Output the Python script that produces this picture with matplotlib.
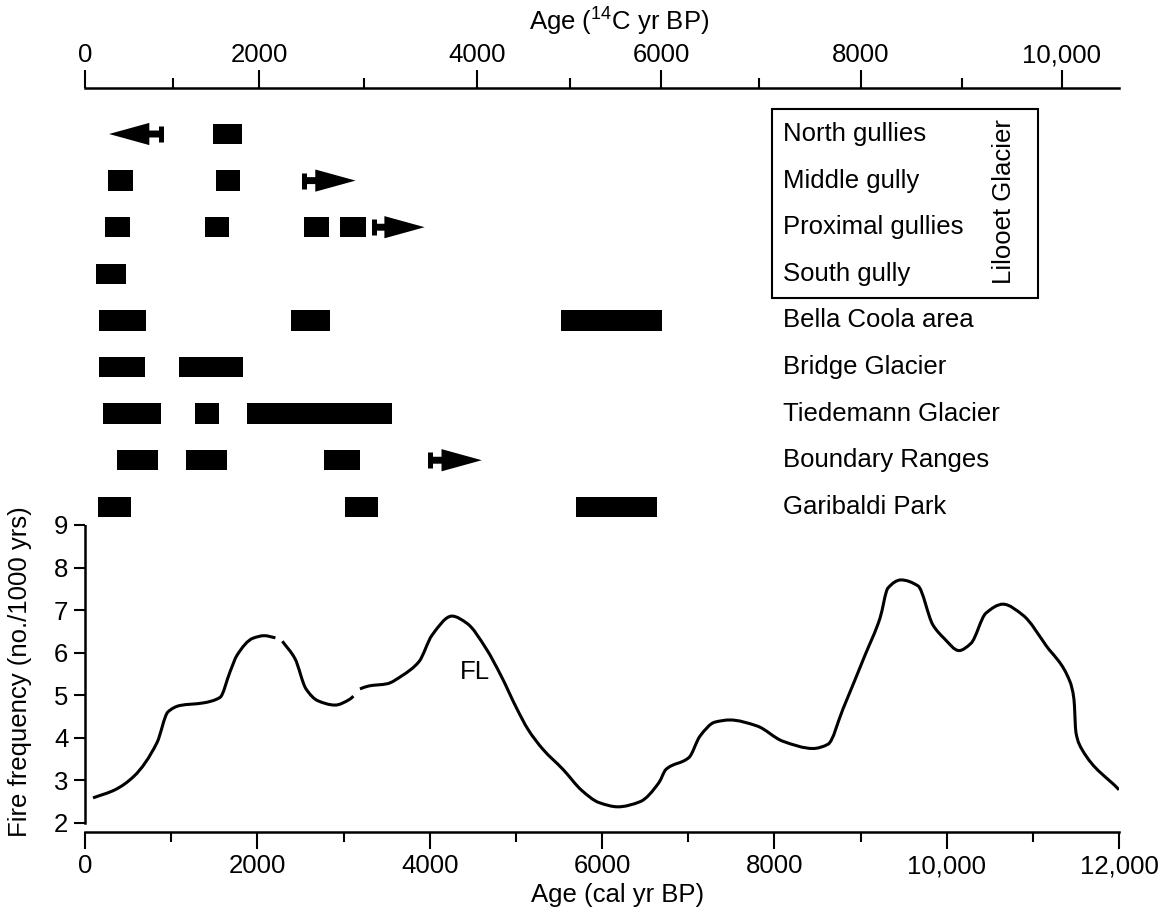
import matplotlib
matplotlib.use('Agg')
import matplotlib.pyplot as plt
from matplotlib.patches import Rectangle, PathPatch
from matplotlib.path import Path
import numpy as np

plt.rcParams['font.family'] = ['Liberation Sans', 'DejaVu Sans']
plt.rcParams['mathtext.fontset'] = 'custom'
plt.rcParams['mathtext.rm'] = 'Liberation Sans'
plt.rcParams['mathtext.it'] = 'Liberation Sans:italic'

# fire frequency curve (cal yr BP, no./1000 yrs); nan = small breaks in the line
age = [93, 348, 569, 836, 963, 1102, 1369, 1567, 1683, 1764, 1949, 2080, 2210, np.nan,
       2290, 2437, 2565, 2704, 2901, 3075, 3115, np.nan, 3191, 3296, 3505, 3679, 3876,
       4027, 4259, 4433, 4654, 4828, 5013, 5141, 5315, 5547, 5768, 5965, 6185, 6441,
       6661, 6743, 7010, 7137, 7311, 7485, 7798, 8100, 8449, 8623, 8797, 9052, 9226,
       9319, 9470, 9667, 9841, 9969, 10143, 10282, 10456, 10653, 10886, 11153, 11431,
       11477, 11500, 11570, 12000]
freq = [2.59, 2.78, 3.10, 3.89, 4.61, 4.76, 4.82, 4.95, 5.55, 5.94, 6.34, 6.40, 6.35, np.nan,
        6.27, 5.86, 5.15, 4.87, 4.77, 4.91, 4.98, np.nan, 5.15, 5.22, 5.27, 5.46, 5.79,
        6.41, 6.86, 6.69, 6.10, 5.46, 4.68, 4.20, 3.73, 3.26, 2.76, 2.48, 2.38, 2.50,
        2.95, 3.26, 3.54, 4.04, 4.37, 4.42, 4.28, 3.92, 3.75, 3.85, 4.68, 5.94, 6.81,
        7.52, 7.71, 7.57, 6.65, 6.34, 6.05, 6.22, 6.93, 7.14, 6.88, 6.17, 5.32,
        4.91, 4.13, 3.73, 2.78]

# sites and dated intervals (cal yr BP)
sites = ['North gullies', 'Middle gully', 'Proximal gullies', 'South gully',
         'Bella Coola area', 'Bridge Glacier', 'Tiedemann Glacier',
         'Boundary Ranges', 'Garibaldi Park']
north_gullies = [(1488, 1826)]
middle_gully = [(267, 558), (1523, 1802)]
proximal_gullies = [(233, 523), (1395, 1674), (2547, 2837), (2965, 3256)]
south_gully = [(128, 477)]
bella_coola = [(163, 709), (2395, 2849), (5523, 6698)]
bridge_glacier = [(163, 698), (1093, 1837)]
tiedemann_glacier = [(209, 884), (1279, 1558), (1884, 3558)]
boundary_ranges = [(372, 849), (1174, 1651), (2779, 3186)]
garibaldi_park = [(151, 535), (3023, 3395), (5698, 6640)]
intervals = [north_gullies, middle_gully, proximal_gullies, south_gully, bella_coola,
             bridge_glacier, tiedemann_glacier, boundary_ranges, garibaldi_park]

# open-ended records: row, start (bar cap), arrow tip
arrow_rows = [0, 1, 2, 7]
arrow_start = [880, 2540, 3355, 4006]
arrow_tip = [279, 3140, 3942, 4605]

# radiocarbon axis: 14C ages and where they fall on the calendar scale
c14_major = ['0', '2000', '4000', '6000', '8000', '10,000']
c14_major_cal = [0, 2019, 4549, 6685, 9005, 11338]
c14_minor_cal = [1021, 3238, 5628, 7822, 10178]

cal_ticks = [0, 2000, 4000, 6000, 8000, 10000, 12000]
cal_labels = ['0', '2000', '4000', '6000', '8000', '10,000', '12,000']


def smooth_path(xs, ys):
    # monotone cubic (Fritsch-Carlson) through the points, as bezier segments
    verts, codes = [], []
    xs = np.asarray(xs, float)
    ys = np.asarray(ys, float)
    breaks = np.where(np.isnan(xs))[0]
    starts = np.r_[0, breaks + 1]
    ends = np.r_[breaks, len(xs)]
    for s, e in zip(starts, ends):
        x = xs[s:e]
        y = ys[s:e]
        h = np.diff(x)
        d = np.diff(y) / h
        m = np.zeros(len(x))
        m[0], m[-1] = d[0], d[-1]
        for k in range(1, len(x) - 1):
            if d[k - 1] * d[k] > 0:
                w1 = 2 * h[k] + h[k - 1]
                w2 = h[k] + 2 * h[k - 1]
                m[k] = (w1 + w2) / (w1 / d[k - 1] + w2 / d[k])
        verts.append((x[0], y[0]))
        codes.append(Path.MOVETO)
        for k in range(len(x) - 1):
            verts += [(x[k] + h[k] / 3, y[k] + m[k] * h[k] / 3),
                      (x[k + 1] - h[k] / 3, y[k + 1] - m[k + 1] * h[k] / 3),
                      (x[k + 1], y[k + 1])]
            codes += [Path.CURVE4] * 3
    return Path(verts, codes)


W, H = 1169, 918
FS = 18.5
fig = plt.figure(figsize=(W / 100, H / 100), dpi=100)

# ---- lower panel: fire frequency ----
ax = fig.add_axes([85 / W, 1 - 823 / H, 1034 / W, 298 / H])
ax.add_patch(PathPatch(smooth_path(age, freq), fill=False, ec='black', lw=2.2,
                       capstyle='butt'))
ax.set_xlim(0, 12000)
ax.set_ylim(2, 9)
ax.spines['top'].set_visible(False)
ax.spines['right'].set_visible(False)
ax.spines['left'].set_bounds(2, 9)
ax.spines['bottom'].set_position(('outward', 6.5))
for s in ['left', 'bottom']:
    ax.spines[s].set_linewidth(1.8)
ax.set_xticks(cal_ticks)
ax.set_xticklabels(cal_labels)
ax.set_xticks(range(1000, 12000, 2000), minor=True)
ax.set_yticks(range(2, 10))
ax.tick_params(axis='x', which='major', length=12, width=1.5, labelsize=FS, pad=4)
ax.tick_params(axis='x', which='minor', length=7, width=1.5)
ax.tick_params(axis='y', length=8, width=1.5, labelsize=FS, pad=4)
ax.text(4526, 5.55, 'FL', fontsize=FS, ha='center', va='center')

fig.text(20 / W, 1 - 672 / H, 'Fire frequency (no./1000 yrs)', rotation=90,
         ha='center', va='center', fontsize=FS)
fig.text(618 / W, 1 - 895 / H, 'Age (cal yr BP)', ha='center', va='center', fontsize=FS)

# ---- upper panel: dated intervals ----
axb = fig.add_axes([85 / W, 1 - 525 / H, 1034 / W, (525 - 88) / H])
axb.set_xlim(0, 12000)
axb.set_ylim(8.39, -0.987)
for s in ['left', 'right', 'bottom']:
    axb.spines[s].set_visible(False)
axb.spines['top'].set_linewidth(1.8)
axb.xaxis.tick_top()
axb.set_xticks(c14_major_cal)
axb.set_xticklabels(c14_major)
axb.set_xticks(c14_minor_cal, minor=True)
axb.set_yticks([])
axb.tick_params(axis='x', which='major', length=13, width=1.5, labelsize=FS, pad=2)
axb.tick_params(axis='x', which='minor', length=7, width=1.5)

bar_h = 0.44
for i, spans in enumerate(intervals):
    axb.broken_barh([(a, b - a) for a, b in spans], (i - bar_h / 2, bar_h),
                    facecolors='black')
    axb.text(8100, i, sites[i], fontsize=FS, ha='left', va='center')

for r, a, b in zip(arrow_rows, arrow_start, arrow_tip):
    axb.annotate('', xy=(b, r), xytext=(a, r),
                 arrowprops=dict(arrowstyle='simple,head_length=2.9,head_width=1.6,tail_width=0.5',
                                 mutation_scale=10, fc='black', ec='none',
                                 shrinkA=0, shrinkB=0))
    axb.plot([a, a], [r - 0.17, r + 0.17], color='black', lw=3.6, solid_capstyle='butt')

axb.add_patch(Rectangle((7972, -0.536), 11060 - 7972, 3.519 + 0.536, fill=False,
                        lw=1.5, ec='black', clip_on=False))
axb.text(10663, 1.46, 'Lilooet Glacier', rotation=90, fontsize=FS,
         ha='center', va='center')

fig.text(619 / W, 1 - 22 / H, 'Age ($^{14}$C yr BP)', ha='center', va='center', fontsize=FS)

plt.savefig('out.png', dpi=100, facecolor='white')
